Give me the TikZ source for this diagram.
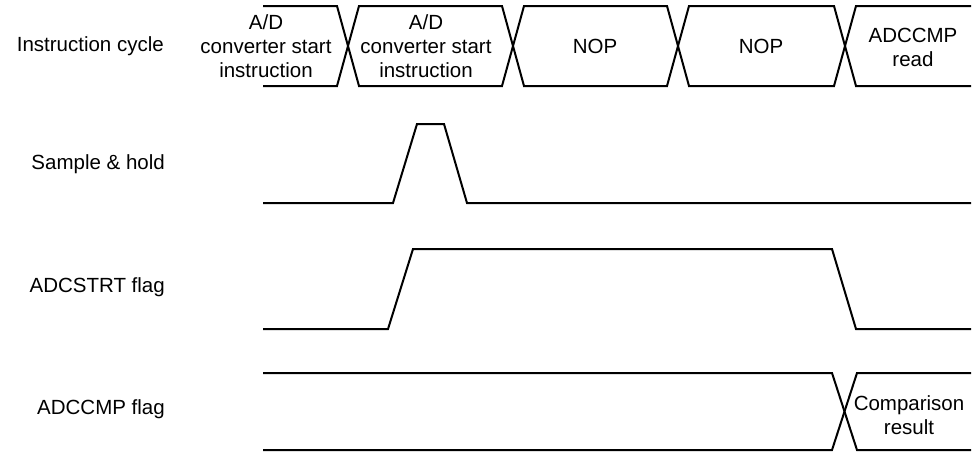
\documentclass[tikz,border=0pt]{standalone}
\usepackage{fontspec}
\setmainfont{Liberation Sans}
\usepackage{tikz}
\usetikzlibrary{positioning}

\begin{document}
\begin{tikzpicture}[x=1pt,y=-1pt,
          every node/.style={font=\fontsize{20.5}{24}\selectfont, inner sep=0pt},
          sig/.style={line width=2pt, black},
          lbl/.style={anchor=east},
          cyc/.style={align=center}]
        \useasboundingbox (0,0) rectangle (972,455);
        % signal names
        \node[lbl] (ic) at (164,46) {Instruction cycle};
        \node[lbl] (sh) at (165,164) {Sample \& hold};
        \node[lbl] (st) at (165,287) {ADCSTRT flag};
        \node[lbl] (cm) at (165,409) {ADCCMP flag};
        % instruction cycle bus
        \draw[sig] (263,6) -- (337,6) -- (359,86) -- (502,86) -- (524,6) -- (667,6)
          -- (689,86) -- (834,86) -- (856,6) -- (971,6);
        \draw[sig] (263,86) -- (337,86) -- (359,6) -- (502,6) -- (524,86) -- (667,86)
          -- (689,6) -- (834,6) -- (856,86) -- (971,86);
        \node[cyc] (i1) at (266,46) {A/D\\converter start\\instruction};
        \node[cyc] (i2) at (426,46) {A/D\\converter start\\instruction};
        \node[cyc] (i3) at (595,46) {NOP};
        \node[cyc] (i4) at (761,46) {NOP};
        \node[cyc] (i5) at (913,47) {ADCCMP\\read};
        % sample & hold pulse
        \draw[sig] (263,203) -- (393,203) -- (417,124) -- (444,124) -- (467,203) -- (971,203);
        % ADCSTRT
        \draw[sig] (263,329) -- (388,329) -- (413,249) -- (832,249) -- (856,329) -- (971,329);
        % ADCCMP
        \draw[sig] (263,373) -- (832,373) -- (857,450) -- (971,450);
        \draw[sig] (263,450) -- (832,450) -- (857,373) -- (971,373);
        \node[cyc] (res) at (909,415) {Comparison\\result};
      \end{tikzpicture}
\end{document}
